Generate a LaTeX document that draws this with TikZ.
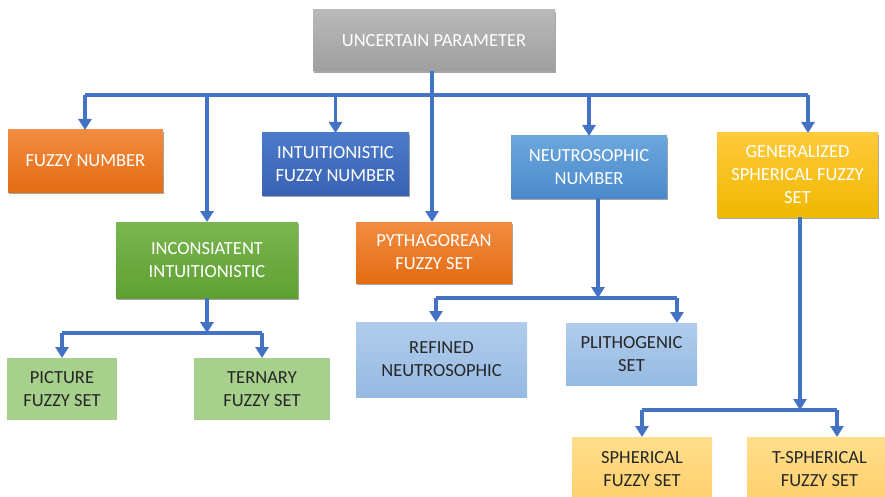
\documentclass[tikz,border=0pt]{standalone}
\usepackage{fontspec}
\setmainfont{Carlito}
\usetikzlibrary{arrows.meta,shadows}
\definecolor{conn}{HTML}{4472C4}
\definecolor{txtdark}{HTML}{262626}
\tikzset{
  box/.style={rectangle, inner sep=0pt, outer sep=0pt, anchor=north west, align=center,
    font=\fontsize{18.5}{23}\selectfont},
  shad/.style={drop shadow={shadow xshift=1.2pt, shadow yshift=-1.8pt, opacity=0.35, fill=black}},
  grayb/.style={box, shad, top color=gray!55, bottom color=gray!75, text=white},
  orangeb/.style={box, shad, top color={rgb,255:red,242;green,140;blue,64}, bottom color={rgb,255:red,228;green,108;blue,20}, text=white},
  blueb/.style={box, shad, top color={rgb,255:red,76;green,122;blue,202}, bottom color={rgb,255:red,58;green,98;blue,178}, text=white},
  greenb/.style={box, shad, top color={rgb,255:red,122;green,182;blue,80}, bottom color={rgb,255:red,96;green,160;blue,50}, text=white},
  lblueb/.style={box, shad, top color={rgb,255:red,108;green,166;blue,220}, bottom color={rgb,255:red,74;green,138;blue,204}, text=white},
  goldb/.style={box, shad, top color={rgb,255:red,255;green,202;blue,60}, bottom color={rgb,255:red,240;green,184;blue,0}, text=white},
  lgreenb/.style={box, fill={rgb,255:red,168;green,208;blue,141}, text=txtdark},
  pblueb/.style={box, top color={rgb,255:red,176;green,204;blue,236}, bottom color={rgb,255:red,150;green,186;blue,226}, text=txtdark},
  pgoldb/.style={box, top color={rgb,255:red,255;green,222;blue,140}, bottom color={rgb,255:red,255;green,208;blue,108}, text=txtdark},
  line/.style={draw=conn, line width=3.4pt},
  arr/.style={line, -{Triangle[width=13pt,length=11pt]}},
}
\begin{document}
\begin{tikzpicture}[x=1pt,y=-1pt]
\useasboundingbox (0,0) rectangle (885,497);
% nodes
\node[grayb, minimum width=242, minimum height=61] (root) at (313,10) {UNCERTAIN PARAMETER};
\node[orangeb, minimum width=155, minimum height=62] (fn) at (8,130) {FUZZY NUMBER};
\node[blueb, minimum width=147, minimum height=62] (ifn) at (262,133) {INTUITIONISTIC\\FUZZY NUMBER};
\node[greenb, minimum width=182, minimum height=76] (ii) at (116,222) {INCONSIATENT\\INTUITIONISTIC};
\node[orangeb, minimum width=156, minimum height=61] (pfs) at (356,222) {PYTHAGOREAN\\FUZZY SET};
\node[lblueb, minimum width=156, minimum height=62] (nn) at (511,136) {NEUTROSOPHIC\\NUMBER};
\node[goldb, minimum width=161, minimum height=84] (gsfs) at (717,133) {GENERALIZED\\SPHERICAL FUZZY\\SET};
\node[lgreenb, minimum width=110, minimum height=62] (pic) at (7,358) {PICTURE\\FUZZY SET};
\node[lgreenb, minimum width=136, minimum height=62] (ter) at (194,358) {TERNARY\\FUZZY SET};
\node[pblueb, minimum width=171, minimum height=75] (ref) at (356,322) {REFINED\\NEUTROSOPHIC};
\node[pblueb, minimum width=131, minimum height=62] (pli) at (566,323) {PLITHOGENIC\\SET};
\node[pgoldb, minimum width=140, minimum height=64] (sfs) at (572,437) {SPHERICAL\\FUZZY SET};
\node[pgoldb, minimum width=145, minimum height=64] (tsfs) at (747,437) {T-SPHERICAL\\FUZZY SET};
% connector coordinates
\coordinate (top) at (432,95);
\coordinate (busL) at (85,95);
\coordinate (busR) at (808,95);
\coordinate (nnout) at (598,0);
\coordinate (nbus) at (598,298);
\coordinate (gout) at (800,0);
\coordinate (gbus) at (800,410);
\coordinate (ibus) at (207,333);
% root bus
\draw[line] (root.south -| top) -- (top);
\draw[line] (busL) -- (busR);
\draw[arr] (busL) -- (busL |- fn.north);
\draw[arr] (ii.north |- top) -- (ii.north);
\draw[arr] (ifn.north |- top) -- (ifn.north);
\draw[arr] (top) -- (top |- pfs.north);
\draw[arr] (nn.north |- top) -- (nn.north);
\draw[arr] (busR) -- (busR |- gsfs.north);
% inconsistent
\draw[arr] (ii.south) -- (ibus);
\draw[line] (pic.north |- ibus) -- (ter.north |- ibus);
\draw[arr] (pic.north |- ibus) -- (pic.north);
\draw[arr] (ter.north |- ibus) -- (ter.north);
% neutrosophic
\draw[arr] (nn.south -| nnout) -- (nbus);
\coordinate (rl) at (436,298);
\coordinate (pr) at (677,298);
\draw[line] (rl) -- (pr);
\draw[arr] (rl) -- (rl |- ref.north);
\draw[arr] (pr) -- (pr |- pli.north);
% generalized
\draw[arr] (gsfs.south -| gout) -- (gbus);
\draw[line] (sfs.north |- gbus) -- (837,410) coordinate (tr);
\draw[arr] (sfs.north |- gbus) -- (sfs.north);
\draw[arr] (tr) -- (tr |- tsfs.north);
\end{tikzpicture}
\end{document}
